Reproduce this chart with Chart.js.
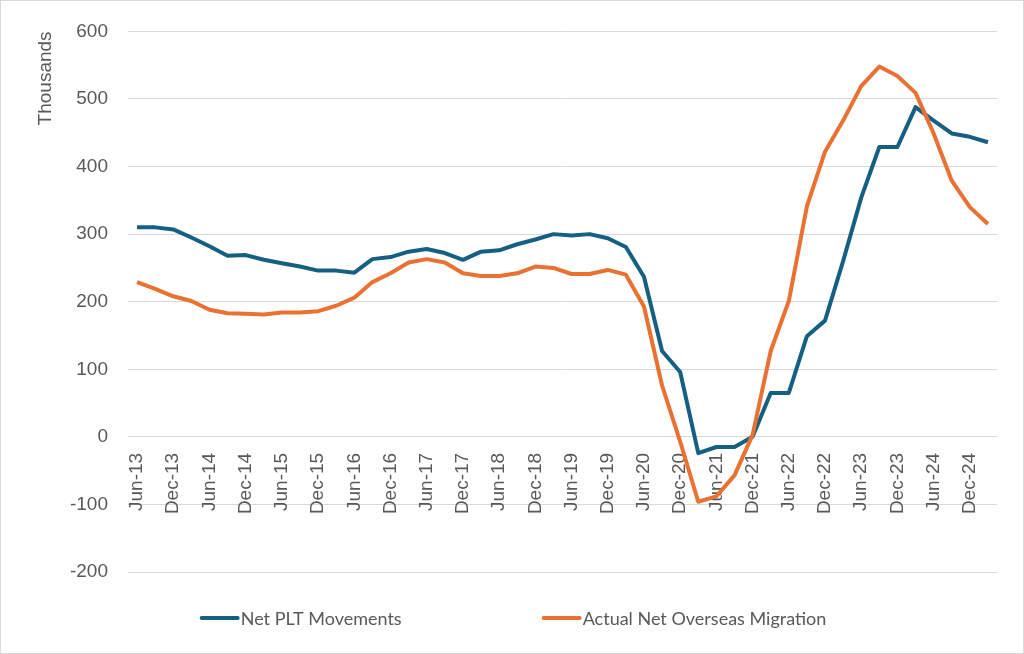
<!DOCTYPE html>
<html>
<head>
<meta charset="utf-8">
<script src="https://cdn.jsdelivr.net/npm/chart.js@4/dist/chart.umd.min.js"></script>
<style>
    html, body { margin: 0; padding: 0; background: #fff; }
    #wrap { width: 1024px; height: 654px; }
</style>
</head>
<body>
<div id="wrap"><canvas id="chart" width="1024" height="654"></canvas></div>
<script>
const quarters = [
    "Jun-13", "Sep-13", "Dec-13", "Mar-14", "Jun-14", "Sep-14", "Dec-14", "Mar-15",
    "Jun-15", "Sep-15", "Dec-15", "Mar-16", "Jun-16", "Sep-16", "Dec-16", "Mar-17",
    "Jun-17", "Sep-17", "Dec-17", "Mar-18", "Jun-18", "Sep-18", "Dec-18", "Mar-19",
    "Jun-19", "Sep-19", "Dec-19", "Mar-20", "Jun-20", "Sep-20", "Dec-20", "Mar-21",
    "Jun-21", "Sep-21", "Dec-21", "Mar-22", "Jun-22", "Sep-22", "Dec-22", "Mar-23",
    "Jun-23", "Sep-23", "Dec-23", "Mar-24", "Jun-24", "Sep-24", "Dec-24", "Mar-25"
];

// thousands
const netPLT = [
    310, 310, 307, 295, 282, 268, 269, 262,
    257, 252, 246, 246, 243, 263, 266, 274,
    278, 272, 262, 274, 276, 285, 292, 300,
    298, 300, 294, 281, 237, 127, 96, -24,
    -15, -15, 0, 65, 65, 149, 172, 260,
    354, 429, 429, 488, 468, 449, 444, 436
];

const actualNOM = [
    229, 219, 208, 201, 188, 183, 182, 181,
    184, 184, 186, 194, 206, 229, 242, 258,
    263, 258, 242, 238, 238, 242, 252, 250,
    241, 241, 247, 240, 193, 76, -7, -96,
    -88, -57, 3, 127, 201, 341, 422, 468,
    519, 548, 534, 509, 449, 379, 340, 315
];

const yMin = -200;
const yMax = 600;
const yStep = 100;

// legend drawn by hand so the wide Excel-style gap between items can be kept
const legendAndBorder = {
    id: "legendAndBorder",
    afterDraw(chart) {
        const ctx = chart.ctx;
        ctx.save();
        ctx.strokeStyle = "#d9d9d9";
        ctx.lineWidth = 1;
        ctx.strokeRect(0.5, 0.5, chart.width - 1, chart.height - 1);

        ctx.font = "18px Lato";
        ctx.textBaseline = "middle";
        const lineLen = 38, textGap = 3, itemGap = 140, y = 618;
        const items = chart.data.datasets.map(ds => ({
            text: ds.label,
            color: ds.borderColor,
            w: lineLen + textGap + ctx.measureText(ds.label).width
        }));
        const total = items.reduce((s, it) => s + it.w, 0) + itemGap * (items.length - 1);
        let x = 513 - total / 2;
        items.forEach(it => {
            ctx.strokeStyle = it.color;
            ctx.lineWidth = 4;
            ctx.lineCap = "round";
            ctx.beginPath();
            ctx.moveTo(x + 2, y);
            ctx.lineTo(x + lineLen, y);
            ctx.stroke();
            ctx.fillStyle = "#595959";
            ctx.fillText(it.text, x + lineLen + textGap, y + 1);
            x += it.w + itemGap;
        });
        ctx.restore();
    }
};

new Chart(document.getElementById("chart"), {
    type: "line",
    data: {
        labels: quarters,
        datasets: [{
            label: "Net PLT Movements",
            data: netPLT,
            borderColor: "#156082",
            backgroundColor: "#156082",
            borderWidth: 4,
            pointRadius: 0,
            tension: 0,
            borderJoinStyle: "round",
            order: 2
        }, {
            label: "Actual Net Overseas Migration",
            data: actualNOM,
            borderColor: "#e97132",
            backgroundColor: "#e97132",
            borderWidth: 4,
            pointRadius: 0,
            tension: 0,
            borderJoinStyle: "round",
            order: 1
        }]
    },
    options: {
        responsive: false,
        animation: false,
        layout: { padding: { left: 0, right: 27, top: 27, bottom: 82 } },
        plugins: {
            legend: { display: false },
            tooltip: { enabled: false }
        },
        scales: {
            x: {
                position: { y: 0 },
                offset: true,
                grid: { display: false },
                border: { display: false },
                ticks: {
                    autoSkip: false,
                    maxRotation: 90,
                    minRotation: 90,
                    padding: 8,
                    color: "#595959",
                    font: { family: "Liberation Sans", size: 19 },
                    callback: function (value, index) {
                        return index % 2 === 0 ? this.getLabelForValue(value) : "";
                    }
                }
            },
            y: {
                min: yMin,
                max: yMax,
                afterFit(scale) { scale.width = 128; },
                grid: { color: "#d9d9d9", lineWidth: 1, drawTicks: false },
                border: { display: false },
                ticks: {
                    stepSize: yStep,
                    padding: 20,
                    color: "#595959",
                    font: { family: "Liberation Sans", size: 19 }
                },
                title: {
                    display: true,
                    text: "Thousands",
                    align: "end",
                    color: "#595959",
                    padding: { top: 34, bottom: 0 },
                    font: { family: "Liberation Sans", size: 19 }
                }
            }
        }
    },
    plugins: [legendAndBorder]
});
</script>
</body>
</html>
